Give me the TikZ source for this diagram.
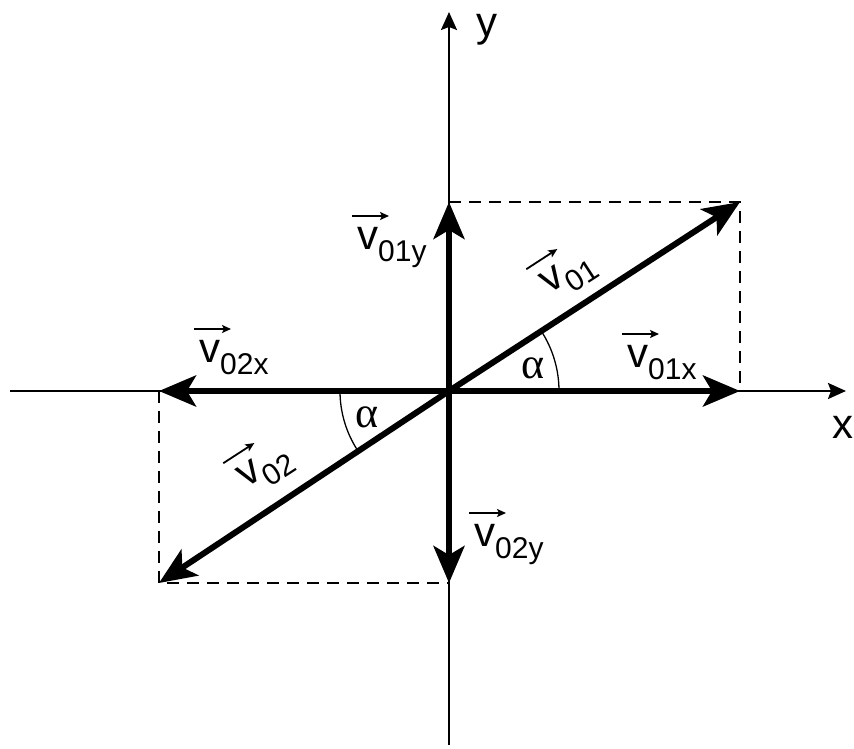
\documentclass[tikz,border=0pt]{standalone}
\usepackage{fontspec}
\setmainfont{Liberation Sans}
\newfontfamily\serifgr{Liberation Serif}
\usetikzlibrary{arrows.meta}
\newcommand{\vsub}[1]{\raisebox{-12pt}{\fontsize{30}{30}\selectfont #1}}
\tikzset{
  axisline/.style={line width=2.2pt,-{Stealth[length=18pt,width=16pt,inset=3pt]}},
  vecline/.style={line width=6pt,-{Stealth[length=37pt,width=31pt,inset=9pt]}},
  dashline/.style={line width=2.4pt,dash pattern=on 12pt off 8pt},
  anglearc/.style={line width=1.3pt},
  lbl/.style={font=\fontsize{42}{42}\selectfont,inner sep=0pt},
  greek/.style={font=\serifgr\fontsize{44}{44}\selectfont,inner sep=0pt},
  smallarrow/.style={line width=1.8pt,-{Stealth[length=9pt,width=8pt,inset=2pt]}},
  vlab/.pic={
    \node[lbl,anchor=base west,transform shape] (-t) at (0,0) {v\vsub{#1}};
    \coordinate (-a1) at (-5,34);
    \coordinate (-a2) at (32,34);
    \draw[smallarrow] (-a1) -- (-a2);
  }
}
\begin{document}
\begin{tikzpicture}[x=1pt,y=1pt]
\useasboundingbox (0,0) rectangle (854,749);
% key points
\coordinate (O) at (449,358);
\coordinate (xl) at (10,358);
\coordinate (xr) at (846,358);
\coordinate (yb) at (449,4);
\coordinate (yt) at (449,737);
\coordinate (A) at (740,547);
\coordinate (Ax) at (740,358);
\coordinate (Ay) at (449,547);
\coordinate (B) at (159,166);
\coordinate (Bx) at (159,358);
\coordinate (By) at (449,166);
% axes
\draw[axisline] (xl) -- (xr);
\draw[axisline] (yb) -- (yt);
\node[lbl,anchor=base west] (ylab) at (476,712) {y};
\node[lbl] (xlab) at (843,322) {x};
% dashed rectangles
\draw[dashline] (Ay) -- (A) -- (Ax);
\draw[dashline] (Bx) -- (B) -- (By);
% vectors
\draw[vecline] (O) -- (A);
\draw[vecline] (O) -- (Ax);
\draw[vecline] (O) -- (Ay);
\draw[vecline] (O) -- (B);
\draw[vecline] (O) -- (Bx);
\draw[vecline] (O) -- (By);
% angles
\draw[anglearc] ([shift={(0:110)}]O) arc[start angle=0,end angle=33,radius=110];
\draw[anglearc] ([shift={(180:109)}]O) arc[start angle=180,end angle=213,radius=109];
\node[greek] (al1) at (533,381) {α};
\node[greek] (al2) at (367,332) {α};
% labels
\pic (l01y) at (357,499) {vlab={01y}};
\pic (l01x) at (627,381) {vlab={01x}};
\pic (l02x) at (199,386) {vlab={02x}};
\pic (l02y) at (474,202) {vlab={02y}};
\pic[rotate=33] (l01) at (549,454) {vlab={01}};
\pic[rotate=33] (l02) at (246,260) {vlab={02}};
\end{tikzpicture}
\end{document}
